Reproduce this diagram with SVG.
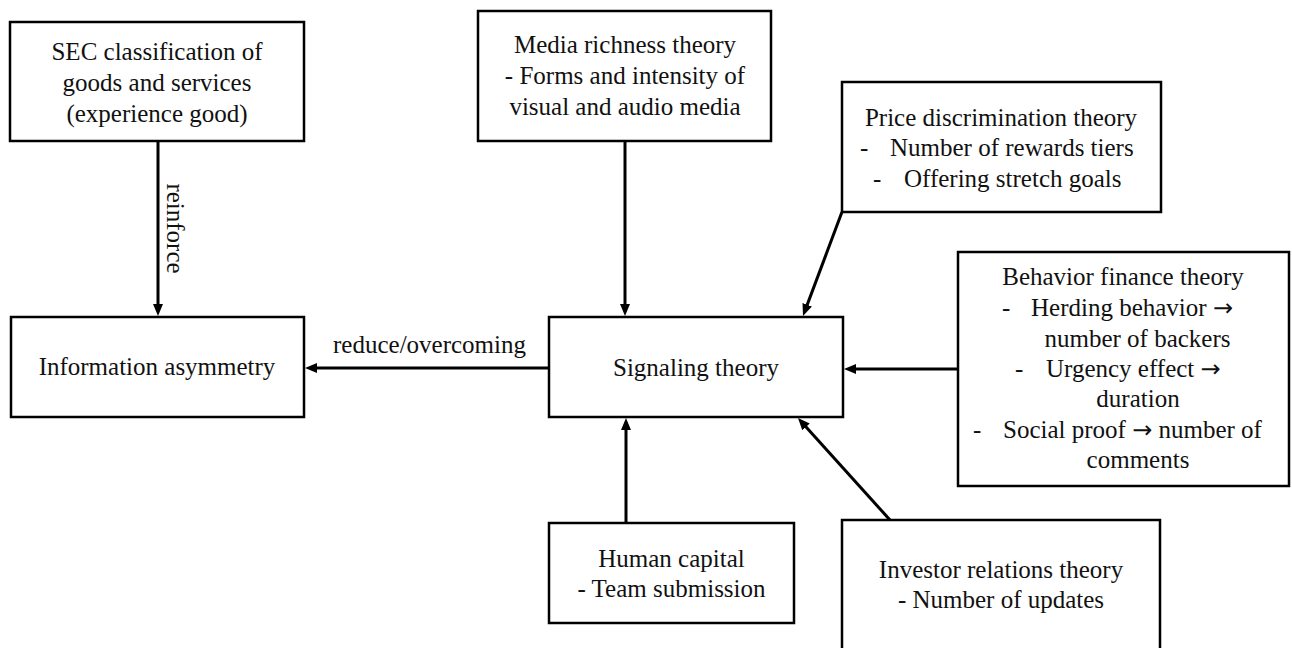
<svg xmlns="http://www.w3.org/2000/svg" width="1292" height="648" viewBox="0 0 1292 648">
<style>
  .box { fill: #ffffff; stroke: #000000; stroke-width: 2.5; }
  .t { font-family: 'Liberation Serif', Tinos, 'DejaVu Serif', serif; font-size: 25px; fill: #111111; }
  .c { text-anchor: middle; }
  .ar { font-family: 'DejaVu Sans', sans-serif; font-size: 24px; }
  .edge { stroke: #000000; stroke-width: 3; fill: none; marker-end: url(#arrow); }
</style>
<defs>
  <marker id="arrow" viewBox="0 0 12 10" refX="6" refY="5" markerWidth="12" markerHeight="10" markerUnits="userSpaceOnUse" orient="auto">
    <path d="M0,0 L12,5 L0,10 z" fill="#000000"/>
  </marker>
</defs>
<rect width="1292" height="648" fill="#ffffff"/>

<g id="connectors">
  <line class="edge" x1="158" y1="141" x2="158" y2="310"/>
  <line class="edge" x1="549" y1="368" x2="311" y2="368"/>
  <line class="edge" x1="625" y1="141" x2="625" y2="310"/>
  <line class="edge" x1="842" y1="212" x2="805.1" y2="310.4"/>
  <line class="edge" x1="958" y1="369" x2="850" y2="369"/>
  <line class="edge" x1="626" y1="523" x2="626" y2="424"/>
  <line class="edge" x1="890" y1="520" x2="802" y2="422.5"/>
  <text class="t" transform="translate(167,228.5) rotate(90)" text-anchor="middle">reinforce</text>
  <text class="t c" x="429.5" y="353">reduce/overcoming</text>
</g>

<g id="sec">
  <rect class="box" x="10" y="22" width="294" height="119"/>
  <text class="t c" x="157" y="60">SEC classification of</text>
  <text class="t c" x="157" y="91">goods and services</text>
  <text class="t c" x="157" y="122">(experience good)</text>
</g>

<g id="info">
  <rect class="box" x="11" y="317" width="293" height="100"/>
  <text class="t c" x="157" y="375">Information asymmetry</text>
</g>

<g id="media">
  <rect class="box" x="478" y="11" width="293" height="130"/>
  <text class="t c" x="625" y="53">Media richness theory</text>
  <text class="t c" x="625" y="84">- Forms and intensity of</text>
  <text class="t c" x="625" y="115">visual and audio media</text>
</g>

<g id="signaling">
  <rect class="box" x="549" y="317" width="294" height="100"/>
  <text class="t c" x="696" y="376">Signaling theory</text>
</g>

<g id="price">
  <rect class="box" x="842" y="82" width="319" height="130"/>
  <text class="t c" x="1001" y="126">Price discrimination theory</text>
  <text class="t" x="860" y="156">-</text>
  <text class="t" x="890" y="156">Number of rewards tiers</text>
  <text class="t" x="873" y="187">-</text>
  <text class="t" x="904" y="187">Offering stretch goals</text>
</g>

<g id="behavior">
  <rect class="box" x="958" y="252" width="331" height="234"/>
  <text class="t c" x="1123" y="285">Behavior finance theory</text>
  <text class="t" x="1002" y="316">-</text>
  <text class="t" x="1031" y="316">Herding behavior <tspan class="ar">→</tspan></text>
  <text class="t c" x="1137.5" y="347">number of backers</text>
  <text class="t" x="1015" y="377">-</text>
  <text class="t" x="1046" y="377">Urgency effect <tspan class="ar">→</tspan></text>
  <text class="t c" x="1138" y="407">duration</text>
  <text class="t" x="973" y="438">-</text>
  <text class="t" x="1003" y="438">Social proof <tspan class="ar">→</tspan> number of</text>
  <text class="t c" x="1138" y="468">comments</text>
</g>

<g id="human">
  <rect class="box" x="549" y="523" width="245" height="100"/>
  <text class="t c" x="671.5" y="567">Human capital</text>
  <text class="t c" x="671.5" y="597">- Team submission</text>
</g>

<g id="investor">
  <path class="box" d="M842,660 L842,520 L1160,520 L1160,660"/>
  <text class="t c" x="1001" y="578">Investor relations theory</text>
  <text class="t c" x="1001" y="608">- Number of updates</text>
</g>
</svg>
